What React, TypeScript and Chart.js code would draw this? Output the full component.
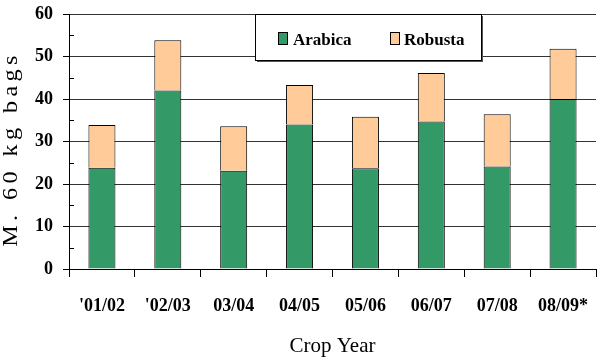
import React, { useEffect, useRef } from "react";
import { Chart, registerables } from "chart.js";

Chart.register(...registerables);

const categories = ["'01/02", "'02/03", "03/04", "04/05", "05/06", "06/07", "07/08", "08/09*"];
const arabica = [23.8, 42.0, 23.1, 34.0, 23.7, 34.7, 24.1, 40.0];
const robusta = [10.1, 11.8, 10.5, 9.3, 12.1, 11.4, 12.3, 11.8];
const seriesNames = ["Arabica", "Robusta"];
const seriesColors = ["#339966", "#FFCC99"];
const yTitle = "M. 60 kg bags";
const xTitle = "Crop Year";

const SERIF = '"Liberation Serif", "Times New Roman", serif';

const decorPlugin = {
  id: "decor",
  afterDatasetsDraw(chart: any) {
    const ctx = chart.ctx;
    const ys = chart.scales.y;
    const area = chart.chartArea;
    ctx.save();
    // minor ticks on y axis (inside)
    ctx.strokeStyle = "#000";
    ctx.lineWidth = 1;
    for (let v = 5; v < 60; v += 10) {
      const py = Math.round(ys.getPixelForValue(v)) + 0.5;
      ctx.beginPath();
      ctx.moveTo(area.left, py);
      ctx.lineTo(area.left + 5, py);
      ctx.stroke();
    }
    // legend box
    const bx = 255.5, by = 14.5, bw = 226, bh = 46;
    ctx.fillStyle = "#555";
    ctx.fillRect(bx + 1.5, by + 1.5, bw, bh);
    ctx.fillStyle = "#fff";
    ctx.fillRect(bx, by, bw, bh);
    ctx.strokeStyle = "#000";
    ctx.strokeRect(bx, by, bw, bh);
    const items = [
      { x: 278, tx: 293 },
      { x: 390, tx: 404 },
    ];
    ctx.font = "bold 17px " + SERIF;
    ctx.textBaseline = "alphabetic";
    ctx.textAlign = "left";
    items.forEach((it, i) => {
      ctx.fillStyle = seriesColors[i];
      ctx.fillRect(it.x + 0.5, 32.5, 9, 12);
      ctx.strokeStyle = "#000";
      ctx.strokeRect(it.x + 0.5, 32.5, 9, 12);
      ctx.fillStyle = "#000";
      ctx.fillText(seriesNames[i], it.tx, 44.5);
    });
    // axis titles
    ctx.fillStyle = "#000";
    ctx.save();
    ctx.translate(17, 149);
    ctx.rotate(-Math.PI / 2);
    ctx.scale(1.1, 1);
    ctx.font = "22px " + SERIF;
    (ctx as any).letterSpacing = "4px";
    ctx.textAlign = "center";
    ctx.textBaseline = "alphabetic";
    ctx.fillText(yTitle, 0, 0);
    ctx.restore();
    ctx.font = "21px " + SERIF;
    ctx.textAlign = "center";
    ctx.textBaseline = "alphabetic";
    ctx.fillText(xTitle, (area.left + area.right) / 2, 352);
    ctx.restore();
  },
};

export default function App() {
  const ref = useRef<HTMLCanvasElement>(null);
  useEffect(() => {
    document.body.style.margin = "0";
    const chart = new Chart(ref.current as HTMLCanvasElement, {
      type: "bar",
      data: {
        labels: categories,
        datasets: [
          {
            label: seriesNames[0],
            data: arabica,
            backgroundColor: seriesColors[0],
            borderColor: "#000",
            borderWidth: 1,
            barPercentage: 0.41,
            categoryPercentage: 1,
          },
          {
            label: seriesNames[1],
            data: robusta,
            backgroundColor: seriesColors[1],
            borderColor: "#000",
            borderWidth: 1,
            barPercentage: 0.41,
            categoryPercentage: 1,
          },
        ],
      },
      options: {
        animation: false,
        responsive: false,
        devicePixelRatio: 1,
        layout: { padding: { top: 14, right: 4, left: 0, bottom: 0 } },
        plugins: { legend: { display: false }, tooltip: { enabled: false } },
        scales: {
          x: {
            stacked: true,
            offset: true,
            afterFit: (s: any) => {
              s.height = 88;
              s.paddingLeft = 0;
              s.paddingRight = 0;
            },
            grid: {
              display: true,
              drawOnChartArea: false,
              drawTicks: true,
              tickLength: 8,
              tickColor: "#000",
              offset: true,
            },
            border: { display: true, color: "#000", width: 1 },
            ticks: {
              color: "#000",
              padding: 19,
              maxRotation: 0,
              font: { family: SERIF, size: 18, weight: "bold" },
            },
          },
          y: {
            stacked: true,
            min: 0,
            max: 60,
            afterFit: (s: any) => {
              s.width = 69;
              s.paddingTop = 0;
              s.paddingBottom = 0;
            },
            grid: {
              color: "#333",
              tickColor: "#000",
              tickLength: 6,
            },
            border: { display: true, color: "#000", width: 1 },
            ticks: {
              stepSize: 10,
              color: "#000",
              padding: 10,
              font: { family: SERIF, size: 18, weight: "bold" },
            },
          },
        },
      },
      plugins: [decorPlugin],
    } as any);
    return () => chart.destroy();
  }, []);
  return (
    <div style={{ width: 600, height: 357 }}>
      <canvas ref={ref} width={600} height={357} />
    </div>
  );
}
